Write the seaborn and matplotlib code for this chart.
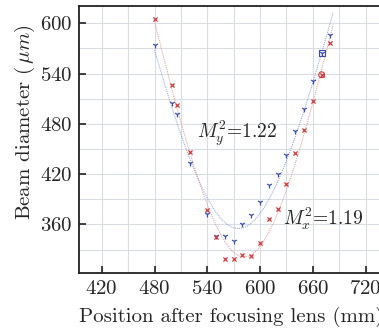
import numpy as np
import pandas as pd
import seaborn as sns
import matplotlib.pyplot as plt
from matplotlib.ticker import MultipleLocator

# positions after the focusing lens (mm)
pos = [480, 500, 505, 520, 540, 550, 560, 570, 580, 590,
       600, 610, 620, 630, 640, 650, 660, 670, 680]
# beam diameters (um)
dx = [605.5, 527, 502, 446.7, 377, 345, 318.6, 318.2, 323, 322,
      338, 366, 378.7, 408, 444.8, 472.6, 507.6, 538.6, 576]
dy = [574.4, 505.2, 492.1, 433.6, 373, 346.4, 345.7, 340, 360.7, 371,
      387, 407, 420, 442.4, 471.4, 498, 531.5, 564.2, 586.4]
m2x, m2y = 1.19, 1.22
mark_idx = 17  # point highlighted with an open marker

red = '#d23a3a'
blue = '#3a4db5'

sns.set_theme(style='white')
plt.rcParams['font.family'] = ['cmr10', 'DejaVu Serif']
plt.rcParams['mathtext.fontset'] = 'cm'
plt.rcParams['axes.formatter.use_mathtext'] = True

df = pd.DataFrame({'pos': pos, 'dx': dx, 'dy': dy})

# hyperbolic fit: w^2 quadratic in z
zz = np.linspace(min(pos), max(pos) + 3, 300)
fits = {}
for col in ['dx', 'dy']:
    c = np.polyfit(df['pos'], df[col] ** 2, 2)
    fits[col] = np.sqrt(np.polyval(c, zz))
fit_df = pd.DataFrame({'z': zz, 'fx': fits['dx'], 'fy': fits['dy']})

fig = plt.figure(figsize=(3.79, 3.32), dpi=100)
ax = fig.add_axes([0.2092, 0.1777, 0.802, 0.8042])

sns.lineplot(data=fit_df, x='z', y='fy', ax=ax, color='#8797d8', lw=0.7,
             linestyle=(0, (1.2, 1.0)), alpha=0.85, zorder=2)
sns.lineplot(data=fit_df, x='z', y='fx', ax=ax, color='#dc9292', lw=0.7,
             linestyle=(0, (1.2, 1.0)), alpha=0.85, zorder=2)
sns.scatterplot(data=df, x='pos', y='dy', ax=ax, marker='1', color=blue,
                s=18, linewidth=0.9, zorder=3)
sns.scatterplot(data=df, x='pos', y='dx', ax=ax, marker='x', color=red,
                s=9, linewidth=0.9, zorder=3)
ax.scatter(pos[mark_idx], dy[mark_idx], marker='s', s=18, facecolor='none',
           edgecolor=blue, linewidth=0.8, zorder=4)
ax.scatter(pos[mark_idx], dx[mark_idx], marker='o', s=18, facecolor='none',
           edgecolor=red, linewidth=0.8, zorder=4)

ax.text(528, 463, r'$M_y^2$' + f'={m2y:.2f}', fontsize=14, va='baseline')
ax.text(626.5, 359, r'$M_x^2$' + f'={m2x:.2f}', fontsize=14, va='baseline')

ax.set_xlim(394.5, 740)
ax.set_ylim(302, 620.7)
ax.xaxis.set_major_locator(MultipleLocator(60))
ax.yaxis.set_major_locator(MultipleLocator(60))
ax.xaxis.set_minor_locator(MultipleLocator(30))
ax.yaxis.set_minor_locator(MultipleLocator(30))
ax.grid(which='both', color='#dadde4', lw=0.8)
ax.set_axisbelow(True)
ax.tick_params(which='major', direction='in', length=5, width=1.2,
               labelsize=15, color='#222222', bottom=True, left=True, pad=5)
ax.tick_params(which='minor', length=0)
for s in ['left', 'bottom', 'top', 'right']:
    ax.spines[s].set_color('#222222')
    ax.spines[s].set_linewidth(1.3)

ax.set_xlabel('Position after focusing lens (mm)', fontsize=15)
ax.set_ylabel(r'Beam diameter ($\,\mu m$)', fontsize=15)
ax.xaxis.label.set_horizontalalignment('left')
ax.xaxis.set_label_coords(0.0, -0.128)
ax.yaxis.set_label_coords(-0.14, 0.565)

fig.savefig('out.png', dpi=100)
